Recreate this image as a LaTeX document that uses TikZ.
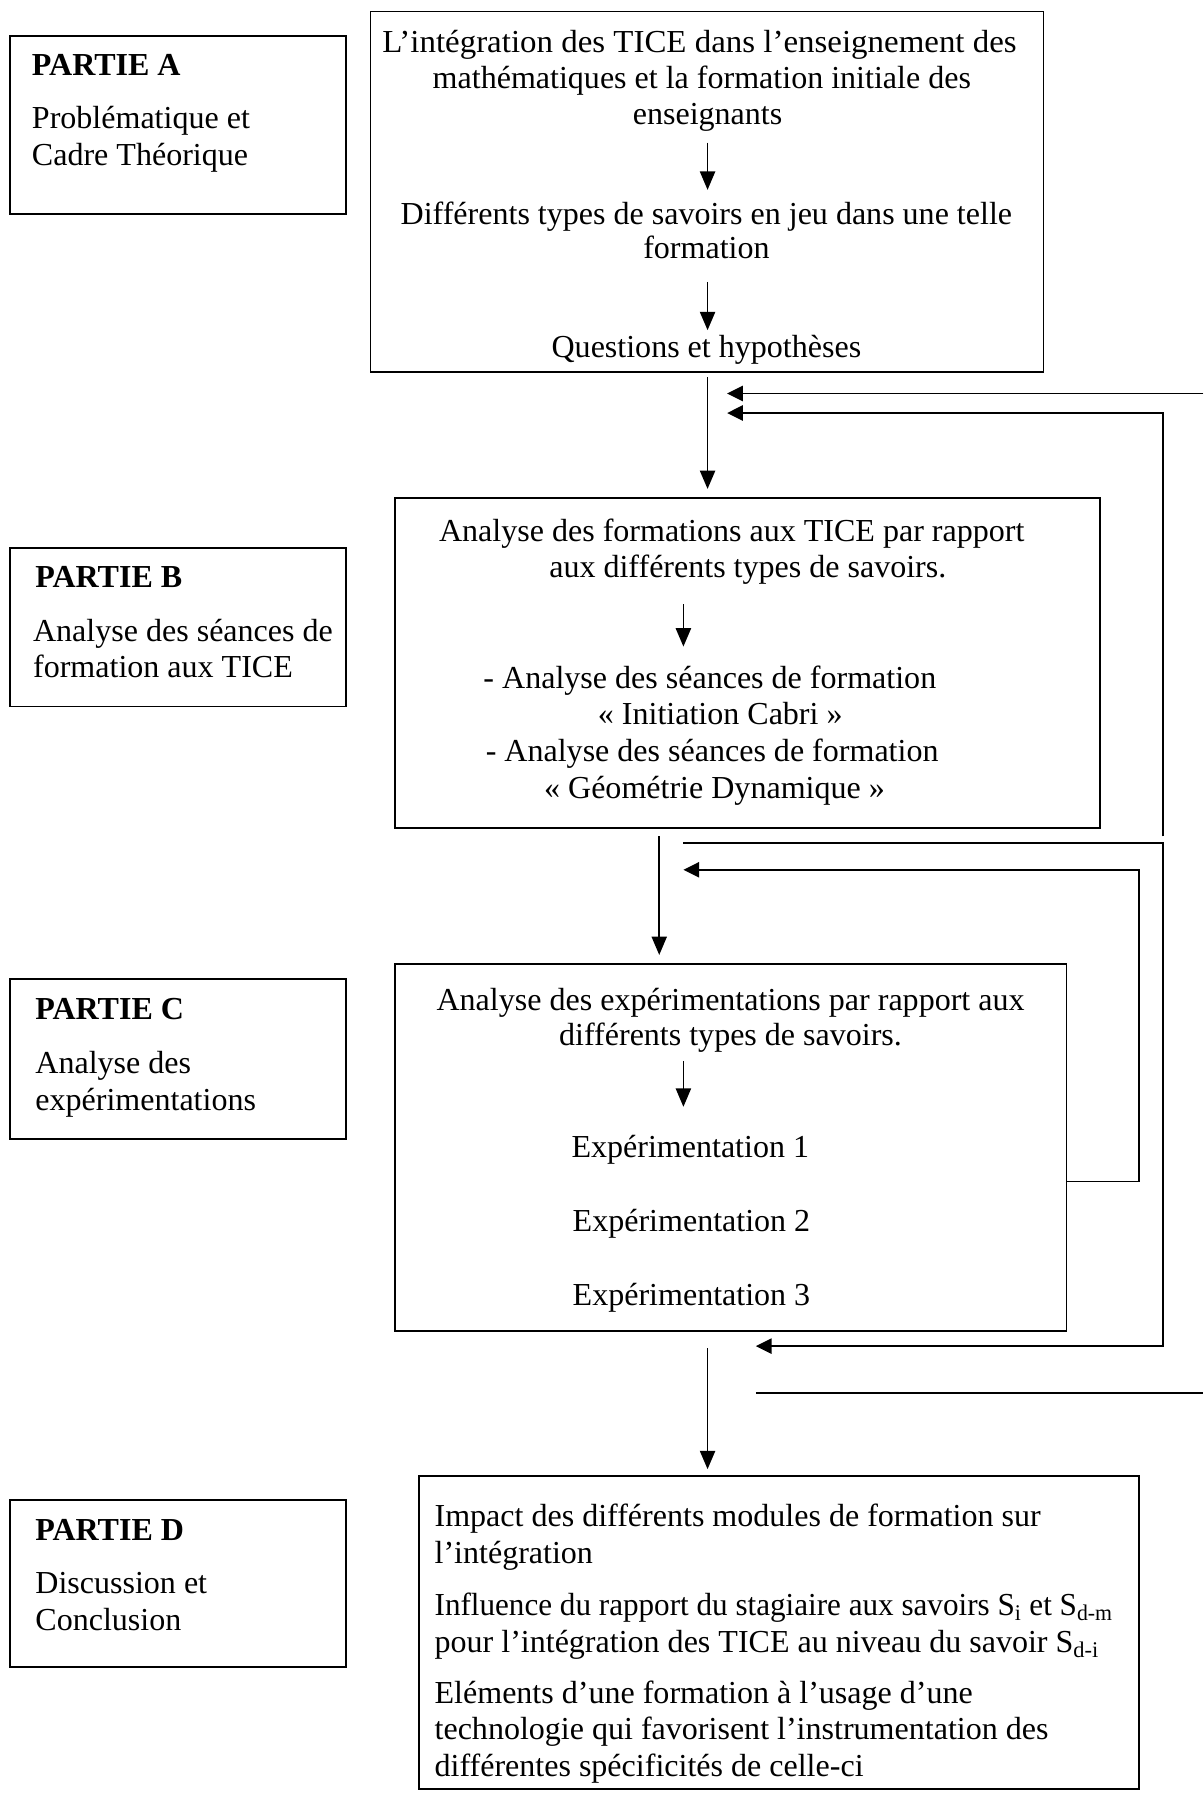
\documentclass[tikz,border=0pt]{standalone}
\usepackage{fontspec}
\setmainfont{Liberation Serif}
\usetikzlibrary{arrows.meta,fit}
\newcommand\mysize{\fontsize{19.8}{23}\selectfont}
\begin{document}
\begin{tikzpicture}[x=0.025cm,y=-0.025cm, line width=1.1pt,
  box/.style={draw, inner sep=0pt},
  ln/.style={inner sep=0pt, anchor=base, font=\mysize},
  lnl/.style={inner sep=0pt, anchor=base west, font=\mysize},
  bold/.style={font=\mysize\bfseries},
  arr/.style={-{Triangle[length=0.4cm,width=0.33cm]}},
  harr/.style={-{Triangle[length=0.34cm,width=0.33cm]}},
]
\useasboundingbox (0,0) rectangle (1046,1568);

% ---- left boxes
\node[box, fit={(9,31) (301,186)}] (pa) {};
\node[box, fit={(9,476) (301,614)}] (pb) {};
\node[box, fit={(9,851) (301,990)}] (pc) {};
\node[box, fit={(9,1304) (301,1449)}] (pd) {};

\node[lnl, bold] (pa1) at (27,66) {PARTIE A};
\node[lnl] (pa2) at (27,112) {Problématique et};
\node[lnl] (pa3) at (27,144) {Cadre Théorique};

\node[lnl, bold] (pb1) at (30,511) {PARTIE B};
\node[lnl] (pb2) at (28,558) {Analyse des séances de};
\node[lnl] (pb3) at (28,589) {formation aux TICE};

\node[lnl, bold] (pc1) at (30,886) {PARTIE C};
\node[lnl] (pc2) at (30,933) {Analyse des};
\node[lnl] (pc3) at (30,965) {expérimentations};

\node[lnl, bold] (pd1) at (30,1339) {PARTIE D};
\node[lnl] (pd2) at (30,1385) {Discussion et};
\node[lnl] (pd3) at (30,1417) {Conclusion};

% ---- main boxes
\node[box, fit={(322,10) (907,323)}] (b1) {};
\node[box, fit={(343,433) (956,720)}] (b2) {};
\node[box, fit={(343,838) (927,1157)}] (b3) {};
\node[box, fit={(364,1283) (990,1555)}] (b4) {};

% box 1 text
\node[ln] (t11) at (608,46) {\scalebox{1.028}[1]{L’intégration des TICE dans l’enseignement des}};
\node[ln] (t12) at (610,77) {mathématiques et la formation initiale des};
\node[ln] (t13) at (615,108) {enseignants};
\node[ln] (t14) at (614,195) {Différents types de savoirs en jeu dans une telle};
\node[ln] (t15) at (614,225) {formation};
\node[ln] (t16) at (614,311) {Questions et hypothèses};

% box 2 text
\node[ln] (t21) at (636,471) {Analyse des formations aux TICE par rapport};
\node[ln] (t22) at (650,502) {aux différents types de savoirs.};
\node[ln] (t23) at (617,598) {- Analyse des séances de formation};
\node[ln] (t24) at (626,630) {« Initiation Cabri »};
\node[ln] (t25) at (619,662) {- Analyse des séances de formation};
\node[ln] (t26) at (621,694) {« Géométrie Dynamique »};

% box 3 text
\node[ln] (t31) at (635,878) {Analyse des expérimentations par rapport aux};
\node[ln] (t32) at (635,909) {différents types de savoirs.};
\node[ln] (t33) at (600,1006) {Expérimentation 1};
\node[ln] (t34) at (601,1070) {Expérimentation 2};
\node[ln] (t35) at (601,1135) {Expérimentation 3};

% box 4 text
\node[lnl] (t41) at (377,1327) {Impact des différents modules de formation sur};
\node[lnl] (t42) at (377,1359) {l’intégration};
\node[lnl] (t43) at (377,1404) {\scalebox{0.972}[1]{Influence du rapport du stagiaire aux savoirs S\textsubscript{i} et S\textsubscript{d-m}}};
\node[lnl] (t44) at (377,1436) {pour l’intégration des TICE au niveau du savoir S\textsubscript{d-i}};
\node[lnl] (t45) at (377,1481) {Eléments d’une formation à l’usage d’une};
\node[lnl] (t46) at (377,1512) {technologie qui favorisent l’instrumentation des};
\node[lnl] (t47) at (377,1544) {différentes spécificités de celle-ci};

% ---- coordinates
\coordinate (a1s) at (615,124);  \coordinate (a1e) at (615,165);
\coordinate (a2s) at (615,245);  \coordinate (a2e) at (615,287);
\coordinate (a3s) at (594,525);  \coordinate (a3e) at (594,562);
\coordinate (a4s) at (594,922);  \coordinate (a4e) at (594,962);
\coordinate (m1s) at (615,328);  \coordinate (m1e) at (615,425);
\coordinate (m2s) at (573,727);  \coordinate (m2e) at (573,830);
\coordinate (m3s) at (615,1172); \coordinate (m3e) at (615,1277);

\coordinate (f1s) at (1046,342);  \coordinate (f1e) at (632,342);
\coordinate (f2s) at (1011,727);  \coordinate (f2c) at (1011,359); \coordinate (f2e) at (632,359);
\coordinate (f3s) at (594,733);   \coordinate (f3c) at (1011,733); \coordinate (f3d) at (1011,1170); \coordinate (f3e) at (657,1170);
\coordinate (f4s) at (927,1027);  \coordinate (f4c) at (990,1027); \coordinate (f4d) at (990,756); \coordinate (f4e) at (594,756);
\coordinate (f5s) at (657,1211);  \coordinate (f5e) at (1046,1211);

% ---- arrows
\draw[arr] (a1s) -- (a1e);
\draw[arr] (a2s) -- (a2e);
\draw[arr] (a3s) -- (a3e);
\draw[arr] (a4s) -- (a4e);
\draw[arr] (m1s) -- (m1e);
\draw[arr] (m2s) -- (m2e);
\draw[arr] (m3s) -- (m3e);

\draw[harr] (f1s) -- (f1e);
\draw[harr] (f2s) -- (f2c) -- (f2e);
\draw[harr] (f3s) -- (f3c) -- (f3d) -- (f3e);
\draw[harr] (f4s) -- (f4c) -- (f4d) -- (f4e);
\draw (f5s) -- (f5e);
\end{tikzpicture}
\end{document}
